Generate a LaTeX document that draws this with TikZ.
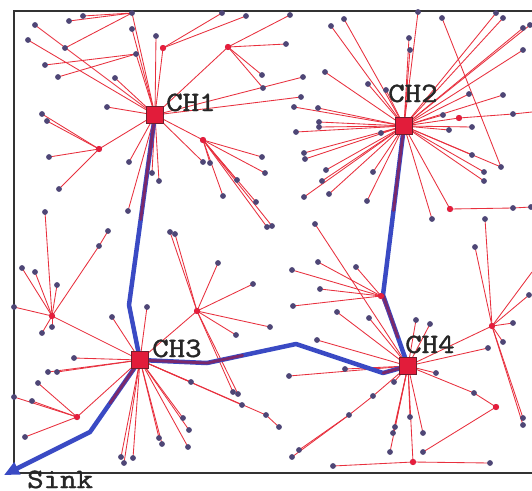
\documentclass[tikz,border=0pt]{standalone}
\usepackage{graphicx}
\usepackage{fontspec}
\newfontfamily\lblfont{lmmono10-regular.otf}[FakeBold=1.2]
\usetikzlibrary{arrows.meta,calc}
\definecolor{linkred}{RGB}{232,48,62}
\definecolor{dotcol}{RGB}{78,70,118}
\definecolor{relayred}{RGB}{230,30,60}
\definecolor{routeblue}{RGB}{58,74,196}
\definecolor{chfill}{RGB}{226,28,58}
\definecolor{chedge}{RGB}{110,30,45}
\newcommand{\wide}[1]{\scalebox{1.12}[1]{#1}}
\tikzset{
  link/.style={linkred, line width=0.85pt},
  sensor/.style={dotcol},
  relay/.style={relayred},
  route/.style={routeblue, line width=4.5pt, line join=round, line cap=round},
  routetint/.style={red!80!black, opacity=0.45, line width=2.8pt, line cap=round},
  chbox/.style={draw=chedge, fill=chfill, line width=1pt, minimum size=17pt, inner sep=0pt},
  lbl/.style={font=\lblfont\fontsize{28}{30}\selectfont, inner sep=0pt, text=black!85},
  frame/.style={black!80, line width=1.4pt}
}
% sensors: name / x / y / parent
\def\sensorlist{%
a1/132/13/c1, a2/83/16/a1, a3/69/21/a1, a4/65/48/a1,
a5/136/54/c1, a6/45/65/a5, a7/58/77/a5, a8/35/25/c1, a9/28/40/c1,
a10/115/78/c1, a11/132/29/c1, a12/156/36/c1,
a13/163/48/c1, a14/222/13/a13, a15/246/16/a13,
a16/228/47/c1, a17/262/75/a16, a18/263/88/a16, a19/290/15/a16, a20/286/44/a16,
a21/303/77/c1, a22/301/97/c1, a23/107/107/c1,
a24/99/149/c1, a25/42/114/a24, a26/47/121/a24, a27/49/157/a24, a28/59/189/a24,
a29/129/162/c1, a30/152/173/c1, a31/159/181/c1,
a32/203/140/c1, a33/262/157/a32, a34/265/173/a32, a35/256/202/a32, a36/223/196/a32,
a37/210/163/a32, a38/237/180/a32, a39/267/227/a32, a40/272/226/a32,
a41/128/211/c1, a42/203/162/c1,
b1/344/19/c2, b2/331/26/c2, b3/325/72/c2, b4/368/84/c2, b5/386/90/c2,
b6/318/108/c2, b7/319/122/c2, b8/319/127/c2, b9/381/133/c2, b10/304/153/c2,
b11/305/159/c2, b12/326/170/c2, b13/322/181/c2, b14/304/197/c2, b15/329/194/c2,
b16/373/172/c2, b17/367/201/c2, b18/418/12/c2, b19/409/38/c2, b20/410/50/c2,
b21/496/13/c2, b22/503/18/c2, b23/523/28/c2, b24/530/25/c2, b25/523/50/c2,
b26/503/95/c2, b27/469/94/c2, b28/443/115/c2, b29/449/130/c2, b30/472/127/c2,
b31/459/118/c2, b32/513/114/b31,
b34/501/167/c2, b33/442/18/b34, b35/472/155/c2, b36/484/172/c2, b37/484/181/c2,
b38/450/209/c2, b39/513/208/b38, b40/531/207/b39, b41/432/219/c2,
b42/296/132/c2, b43/294/107/c2,
d1/52/316/c3, d2/22/268/d1, d3/35/272/d1, d4/57/285/d1, d5/14/307/d1,
d6/52/327/d1, d7/42/333/d1, d8/45/212/d1, d9/99/246/d1, d10/108/231/d9,
d11/112/317/c3, d12/147/307/c3, d13/74/358/c3, d14/48/372/c3, d15/57/372/c3,
d16/77/417/c3, d17/38/383/d16, d18/14/397/d16, d19/32/401/d16, d20/25/437/d16,
d21/197/311/c3, d22/218/263/d21, d23/253/284/d21, d24/236/335/d21, d25/270/327/d21,
d26/170/232/d21, d27/175/234/d21, d28/233/392/d21, d29/238/394/d21,
d30/191/382/c3, d31/242/405/c3, d32/183/418/c3, d33/189/430/c3, d34/159/438/c3,
d35/162/444/c3, d36/188/447/c3, d37/121/457/c3, d38/124/463/c3, d39/133/458/c3,
d40/266/415/c3, d41/279/427/d40,
e1/381/296/c4, e2/318/262/e1, e3/292/270/e1, e4/356/267/e1, e5/320/289/e1, e6/293/306/e1,
e7/315/224/c4, e8/337/312/c4, e9/369/318/c4, e10/416/320/c4, e11/430/324/c4,
e12/317/340/c4, e13/345/369/c4, e14/289/376/c4, e15/436/373/c4, e16/394/382/c4,
e17/488/348/c4,
e18/492/326/c4, e19/475/247/e18, e20/485/219/e18, e21/513/323/e18, e22/503/342/e18,
e23/529/295/e18, e24/523/418/e18, e25/523/425/e18,
e26/373/396/c4, e27/349/415/e26, e28/299/450/e27, e29/292/457/e27,
e30/410/417/c4, e31/395/427/c4, e32/393/433/c4, e33/423/433/c4, e34/390/452/c4,
e35/413/462/c4, e36/333/466/e35, e37/490/463/e35,
e38/474/393/c4, e39/496/407/e38, e40/423/452/e39}
\def\relaylist{a13,a16,a24,a32,b31,b38,d1,d16,d21,e1,e18,e35,e39}

\begin{document}
\begin{tikzpicture}[x=1pt,y=-1pt]
\useasboundingbox (0,0) rectangle (532,490);
\fill[white] (0,0) rectangle (532,490);

% cluster heads and route bends
\coordinate (c1) at (155,115);
\coordinate (c2) at (404,126);
\coordinate (c3) at (140,360);
\coordinate (c4) at (408,366);
\coordinate (p13) at (129,305);
\coordinate (p24) at (383,295);
\coordinate (q1) at (207,363);
\coordinate (q2) at (296,344);
\coordinate (q3) at (383,373);
\coordinate (q4) at (90,432);
\coordinate (sink) at (4,475);

% field border
\draw[frame] (532,11) -- (14,11) -- (14,473) -- (532,473);

% sensor positions
\foreach \n/\x/\y/\p in \sensorlist { \coordinate (\n) at (\x,\y); }

% links towards parents
\foreach \n/\x/\y/\p in \sensorlist { \draw[link] (\n) -- (\p); }
\coordinate (edgeA) at (532,272);
\coordinate (edgeB) at (532,112);
\draw[link] (e18) -- (edgeA);
\draw[link] (b32) -- (edgeB);

% multi-hop route to the sink
\draw[route] (c1) -- (p13) -- (c3);
\draw[route] (c2) -- (p24) -- (c4);
\draw[route] (c4) -- (q3) -- (q2) -- (q1) -- (c3);
\draw[route, -{Triangle[length=15pt,width=13pt]}] (c3) -- (q4) -- (sink);
\draw[routetint] (c1) -- ($(c1)!0.55!(p13)$);
\draw[routetint] (c2) -- ($(c2)!0.5!(p24)$);
\draw[routetint] (c3) -- (q1) -- ($(q1)!0.4!(q2)$);
\draw[routetint] (c3) -- ($(c3)!0.6!(q4)$);
\draw[routetint] (c4) -- (q3);
\draw[routetint] (p24) -- ($(p24)!0.6!(c4)$);

% sensor dots
\foreach \n/\x/\y/\p in \sensorlist { \fill[sensor] (\n) circle (2.9); }
\foreach \n in \relaylist { \fill[relay] (\n) circle (3.1); }

% cluster head boxes
\node[chbox] (ch1) at (c1) {};
\node[chbox] (ch2) at (c2) {};
\node[chbox] (ch3) at (c3) {};
\node[chbox] (ch4) at (c4) {};

% labels
\node[lbl, anchor=base west] (l1) at (166,111) {\wide{CH1}};
\node[lbl, anchor=base west] (l2) at (388,102) {\wide{CH2}};
\node[lbl, anchor=base west] (l3) at (152,357) {\wide{CH3}};
\node[lbl, anchor=base west] (l4) at (405,353) {\wide{CH4}};
\node[lbl, anchor=base west] (ls) at (27,488) {\wide{Sink}};
\end{tikzpicture}
\end{document}
